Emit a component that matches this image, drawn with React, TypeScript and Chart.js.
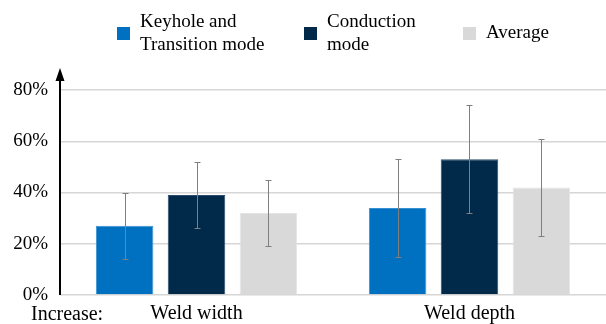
import React, { useEffect, useRef } from "react";
import { Chart, registerables } from "chart.js";

Chart.register(...registerables);

const categories = ["Weld width", "Weld depth"];
const seriesLabels = [["Keyhole and", "Transition mode"], ["Conduction", "mode"], ["Average"]];
const keyholeValues = [27, 34];
const keyholeErrors = [13, 19];
const conductionValues = [39, 53];
const conductionErrors = [13, 21];
const averageValues = [32, 42];
const averageErrors = [13, 19];
const yTickValues = [0, 20, 40, 60, 80];
const xPrefixLabel = "Increase:";

const colors = ["#0070c0", "#00294a", "#d9d9d9"];
const borderColors = ["#3a8fd0", "#2a4c6c", "#e4e4e4"];
const errors = [keyholeErrors, conductionErrors, averageErrors];
const FONT = "'Liberation Serif', 'Times New Roman', serif";

const errorBarPlugin = {
  id: "errorBars",
  afterDatasetsDraw(chart: any) {
    const ctx = chart.ctx;
    const y = chart.scales.y;
    ctx.save();
    ctx.strokeStyle = "#7f7f7f";
    ctx.lineWidth = 1;
    chart.data.datasets.forEach((ds: any, di: number) => {
      const meta = chart.getDatasetMeta(di);
      meta.data.forEach((bar: any, i: number) => {
        const v = ds.data[i];
        const e = errors[di][i];
        const x = Math.round(bar.x) + 0.5;
        const yt = Math.round(y.getPixelForValue(v + e)) + 0.5;
        const yb = Math.round(y.getPixelForValue(v - e)) + 0.5;
        ctx.beginPath();
        ctx.moveTo(x, yt);
        ctx.lineTo(x, yb);
        ctx.moveTo(x - 3, yt);
        ctx.lineTo(x + 3, yt);
        ctx.moveTo(x - 3, yb);
        ctx.lineTo(x + 3, yb);
        ctx.stroke();
      });
    });
    ctx.restore();
  },
};

const decorPlugin = {
  id: "decor",
  afterDraw(chart: any) {
    const ctx = chart.ctx;
    const ca = chart.chartArea;
    ctx.save();
    // y axis with arrow
    const ax = ca.left;
    ctx.strokeStyle = "#000";
    ctx.fillStyle = "#000";
    ctx.lineWidth = 2;
    ctx.beginPath();
    ctx.moveTo(ax, ca.bottom);
    ctx.lineTo(ax, 78);
    ctx.stroke();
    ctx.beginPath();
    ctx.moveTo(ax, 68);
    ctx.lineTo(ax - 4.5, 81);
    ctx.lineTo(ax + 4.5, 81);
    ctx.closePath();
    ctx.fill();

    // "Increase:" prefix
    ctx.font = `20px ${FONT}`;
    ctx.textAlign = "left";
    ctx.textBaseline = "alphabetic";
    ctx.fillText(xPrefixLabel, 31, 320);

    // legend
    const boxX = [117, 304, 463];
    const textX = [140, 327, 486];
    const cy = 33.5;
    const lh = 22.3;
    ctx.font = `19px ${FONT}`;
    ctx.textBaseline = "middle";
    seriesLabels.forEach((lines, i) => {
      ctx.fillStyle = colors[i];
      ctx.fillRect(boxX[i], cy - 6.5, 13, 13);
      ctx.fillStyle = "#000";
      const n = lines.length;
      lines.forEach((t, j) => {
        const ly = cy + (j - (n - 1) / 2) * lh;
        ctx.fillText(t, textX[i], ly);
      });
    });
    ctx.restore();
  },
};

export default function App() {
  const ref = useRef<HTMLCanvasElement>(null);
  useEffect(() => {
    if (!ref.current) return;
    const datasets = [keyholeValues, conductionValues, averageValues].map((d, i) => ({
      label: seriesLabels[i].join(" "),
      data: d,
      backgroundColor: colors[i],
      borderColor: borderColors[i],
      borderWidth: 1,
      categoryPercentage: 0.79,
      barPercentage: 0.8,
    }));
    const chart = new Chart(ref.current, {
      type: "bar",
      data: { labels: categories, datasets },
      plugins: [errorBarPlugin, decorPlugin],
      options: {
        animation: false,
        responsive: false,
        maintainAspectRatio: false,
        layout: { padding: { top: 90, left: 0, right: 0, bottom: 0 } },
        plugins: { legend: { display: false }, tooltip: { enabled: false } },
        scales: {
          x: {
            grid: { display: false, drawTicks: false },
            border: { display: false },
            ticks: { color: "#000", font: { family: FONT, size: 20 }, padding: 7 },
            afterFit: (s: any) => {
              s.height = 29;
            },
          },
          y: {
            min: 0,
            max: 80,
            grid: { color: "#d6d6d6", lineWidth: 1.5, drawTicks: false },
            border: { display: false },
            ticks: {
              stepSize: 10,
              color: "#000",
              padding: 12,
              font: { family: FONT, size: 19 },
              callback: (v: any) => (yTickValues.includes(Number(v)) ? `${v}%` : ""),
            },
            afterFit: (s: any) => {
              s.width = 60;
            },
          },
        },
      },
    });
    return () => chart.destroy();
  }, []);
  return (
    <div style={{ position: "absolute", left: 0, top: 0, width: 606, height: 324 }}>
      <canvas ref={ref} width={606} height={324} style={{ display: "block" }} />
    </div>
  );
}
